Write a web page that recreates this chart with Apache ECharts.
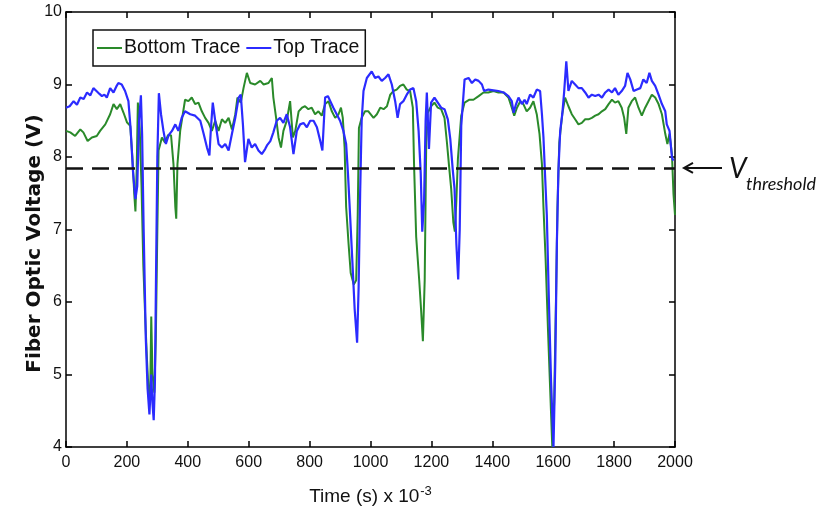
<!DOCTYPE html>
<html>
<head>
<meta charset="utf-8">
<script src="https://cdn.jsdelivr.net/npm/echarts@6/dist/echarts.min.js"></script>
<style>
html,body{margin:0;padding:0;background:#fff;}
#chart{width:833px;height:511px;}
</style>
</head>
<body>
<div id="chart"></div>
<script>
// ---- data ----
const seriesNames = ['Bottom Trace', 'Top Trace'];
const xTicks = [0, 200, 400, 600, 800, 1000, 1200, 1400, 1600, 1800, 2000];
const yTicks = [4, 5, 6, 7, 8, 9, 10];
const threshold = 7.85;

const bottomTime = [0,14,30,47,57,71,85,101,112,129,145,156,167,178,189,200,211,218,224,228,232,236,242,248,254,260,266,272,276,280,284,290,295,300,304,315,325,335,345,353,359,362,366,375,391,402,413,424,435,446,457,468,479,490,501,512,523,534,545,556,563,574,583,594,605,621,638,649,665,676,681,690,698,706,714,725,736,745,753,764,775,785,796,807,818,829,840,851,862,873,884,895,903,909,915,920,928,935,945,953,958,962,971,982,993,1010,1021,1032,1043,1054,1065,1075,1086,1097,1108,1119,1130,1139,1143,1150,1160,1166,1172,1178,1183,1188,1199,1210,1221,1232,1243,1251,1259,1265,1272,1277,1282,1287,1298,1309,1325,1338,1355,1371,1387,1404,1420,1437,1453,1464,1472,1481,1492,1502,1513,1524,1535,1546,1555,1563,1568,1575,1583,1590,1597,1603,1609,1614,1620,1630,1639,1650,1661,1672,1683,1694,1705,1716,1727,1738,1749,1760,1771,1782,1793,1803,1814,1825,1833,1840,1847,1858,1869,1880,1891,1902,1913,1924,1935,1946,1957,1968,1975,1982,1990,1995,2000];
const bottomValues = [8.36,8.34,8.29,8.38,8.34,8.22,8.27,8.29,8.36,8.45,8.59,8.73,8.66,8.73,8.61,8.48,8.43,8.0,7.5,7.25,7.8,8.75,8.4,7.6,6.5,5.8,5.2,4.7,4.6,5.8,5.0,4.75,5.5,7.0,8.09,8.27,8.2,8.3,8.3,7.9,7.31,7.15,7.9,8.36,8.79,8.77,8.82,8.73,8.75,8.63,8.54,8.47,8.36,8.5,8.36,8.52,8.47,8.54,8.38,8.59,8.82,8.75,8.95,9.16,9.02,9.0,9.05,9.0,9.02,9.09,8.82,8.54,8.27,8.13,8.36,8.5,8.77,8.27,8.36,8.63,8.68,8.7,8.66,8.68,8.59,8.63,8.57,8.73,8.77,8.63,8.54,8.59,8.68,8.54,8.13,7.31,6.8,6.4,6.24,6.3,7.2,8.4,8.54,8.63,8.63,8.54,8.59,8.68,8.66,8.7,8.86,8.91,8.93,8.98,9.0,8.93,8.91,8.68,7.9,6.9,6.3,5.9,5.46,6.3,8.2,8.61,8.7,8.75,8.68,8.66,8.54,8.2,7.83,7.56,7.1,6.97,7.4,7.97,8.57,8.75,8.79,8.79,8.84,8.89,8.89,8.91,8.89,8.89,8.82,8.68,8.57,8.68,8.77,8.73,8.63,8.68,8.77,8.59,8.32,7.9,7.31,6.6,5.6,4.8,4.0,4.6,6.0,7.3,8.2,8.6,8.82,8.7,8.59,8.52,8.45,8.47,8.52,8.52,8.54,8.57,8.59,8.63,8.66,8.73,8.79,8.75,8.77,8.68,8.54,8.32,8.68,8.77,8.82,8.68,8.57,8.68,8.77,8.86,8.82,8.73,8.59,8.32,8.18,8.32,8.04,7.49,7.2];

const topTime = [0,12,25,36,47,58,69,80,90,100,110,118,126,134,145,156,165,172,183,194,205,212,220,228,234,240,246,250,255,262,268,274,280,284,288,292,296,300,305,312,320,328,337,348,359,369,380,391,408,424,441,452,463,471,476,482,490,501,512,523,534,545,556,567,574,581,588,599,610,621,632,643,654,660,671,681,692,703,714,725,736,747,758,769,780,791,802,813,824,835,842,851,860,868,878,889,900,911,920,926,931,940,948,956,961,966,971,977,988,1004,1015,1026,1037,1048,1059,1070,1081,1089,1097,1108,1119,1130,1141,1150,1158,1165,1170,1176,1181,1185,1192,1199,1210,1221,1232,1243,1254,1262,1270,1276,1282,1288,1293,1298,1309,1322,1333,1344,1355,1366,1373,1387,1404,1420,1437,1453,1464,1470,1478,1486,1497,1506,1513,1524,1535,1546,1557,1563,1568,1574,1579,1586,1593,1601,1607,1612,1617,1623,1630,1636,1643,1650,1661,1672,1683,1694,1705,1716,1727,1738,1749,1760,1771,1782,1793,1803,1814,1825,1836,1844,1853,1864,1875,1886,1896,1907,1916,1924,1935,1946,1957,1968,1973,1982,1990,1995];
const topValues = [8.68,8.7,8.77,8.72,8.82,8.8,8.89,8.85,8.95,8.91,8.87,8.84,8.86,8.82,8.95,8.89,8.97,9.02,9.0,8.91,8.77,8.4,7.8,7.42,7.6,8.5,8.85,8.3,7.0,5.5,4.8,4.45,5.0,4.6,4.37,4.9,6.5,8.0,8.88,8.59,8.36,8.18,8.3,8.36,8.45,8.36,8.54,8.63,8.59,8.57,8.5,8.32,8.13,8.02,8.4,8.75,8.5,8.18,8.13,8.18,8.09,8.32,8.54,8.82,8.86,8.45,7.93,8.25,8.13,8.18,8.09,8.04,8.11,8.16,8.22,8.34,8.5,8.54,8.47,8.59,8.41,8.04,8.36,8.45,8.47,8.41,8.5,8.5,8.41,8.22,8.09,8.82,8.84,8.77,8.68,8.59,8.5,8.36,8.18,7.77,7.36,6.6,5.9,5.44,6.2,7.5,8.5,8.91,9.09,9.18,9.09,9.11,9.05,9.09,9.14,9.0,8.77,8.54,8.73,8.77,8.86,8.93,8.95,8.77,8.36,7.77,6.97,7.4,8.5,8.89,8.11,8.75,8.82,8.75,8.68,8.66,8.52,8.25,7.83,7.56,6.8,6.31,7.0,8.43,9.07,9.09,9.02,9.07,9.05,9.0,8.91,8.93,8.92,8.91,8.89,8.84,8.77,8.61,8.73,8.82,8.73,8.79,8.73,8.86,8.82,8.93,8.91,8.59,8.27,7.68,7.2,6.0,4.9,4.0,5.2,6.8,7.8,8.36,8.6,8.9,9.32,8.91,9.05,9.0,8.95,8.95,8.89,8.82,8.86,8.84,8.86,8.82,8.89,8.93,8.89,8.95,8.86,8.91,8.98,9.16,9.07,8.91,8.93,8.95,9.07,9.02,9.16,9.05,8.98,8.86,8.73,8.63,8.45,8.36,7.99,7.95];

// ---- chart ----
const SANS = '"Liberation Sans", Arial, Helvetica, sans-serif';
const chart = echarts.init(document.getElementById('chart'), null, {renderer: 'canvas'});

function zip(t, v) { return t.map((x, i) => [x, v[i]]); }

const axisCommon = {
  axisLine: {show: true, onZero: false, lineStyle: {color: '#000', width: 1.5}},
  axisTick: {show: true, inside: true, length: 6, lineStyle: {color: '#000', width: 1.5}},
  splitLine: {show: false}
};

const option = {
  animation: false,
  backgroundColor: '#fff',
  grid: {left: 66, right: 158, top: 12, bottom: 61, containLabel: false},
  legend: {
    data: seriesNames,
    left: 93, top: 30,
    orient: 'horizontal',
    icon: 'rect',
    itemWidth: 25, itemHeight: 2, itemGap: 6,
    padding: [8, 6, 8, 4],
    backgroundColor: '#fff',
    borderColor: '#111', borderWidth: 1.5,
    textStyle: {fontFamily: SANS, fontSize: 19.5, color: '#111', padding: [0, 0, 0, -3]}
  },
  xAxis: [
    Object.assign({
      type: 'value', min: xTicks[0], max: xTicks[xTicks.length - 1], interval: xTicks[1] - xTicks[0],
      position: 'bottom',
      axisLabel: {fontFamily: SANS, fontSize: 16, color: '#111', margin: 8, formatter: v => String(v)},
      name: '{a|Time (s) x 10}{b|-3}',
      nameLocation: 'middle', nameGap: 38, nameMoveOverlap: false,
      nameTextStyle: {
        rich: {
          a: {fontFamily: SANS, fontSize: 19, color: '#111'},
          b: {fontFamily: SANS, fontSize: 13, color: '#111', verticalAlign: 'top', padding: [0, 0, 10, 1]}
        }
      }
    }, axisCommon),
    Object.assign({
      type: 'value', min: xTicks[0], max: xTicks[xTicks.length - 1], interval: xTicks[1] - xTicks[0],
      position: 'top', axisLabel: {show: false}
    }, axisCommon)
  ],
  yAxis: [
    Object.assign({
      type: 'value', min: yTicks[0], max: yTicks[yTicks.length - 1], interval: 1,
      position: 'left',
      axisLabel: {fontFamily: SANS, fontSize: 16, color: '#111', margin: 4},
      name: 'Fiber Optic Voltage (V)',
      nameLocation: 'middle', nameGap: 21, nameMoveOverlap: false,
      nameTextStyle: {fontFamily: '"DejaVu Sans", sans-serif', fontWeight: 'bold', fontSize: 20, color: '#111', padding: [0, 28, 0, 0]}
    }, axisCommon),
    Object.assign({
      type: 'value', min: yTicks[0], max: yTicks[yTicks.length - 1], interval: 1,
      position: 'right', axisLabel: {show: false}
    }, axisCommon)
  ],
  series: [
    {
      name: seriesNames[0], type: 'line', data: zip(bottomTime, bottomValues),
      showSymbol: false, symbol: 'none',
      color: '#2a8a2a',
      lineStyle: {width: 2, color: '#2a8a2a'},
      z: 2,
      markLine: {
        silent: true, symbol: ['none', 'none'], label: {show: false},
        lineStyle: {color: '#111', width: 2.5, type: [17, 9]},
        data: [{yAxis: threshold}],
        z: 5
      }
    },
    {
      name: seriesNames[1], type: 'line', data: zip(topTime, topValues),
      showSymbol: false, symbol: 'none',
      color: '#2b2bff',
      lineStyle: {width: 2.2, color: '#2b2bff'},
      z: 3
    }
  ]
};
chart.setOption(option);

// annotation (arrow + label) positioned from the threshold value
const yPix = chart.convertToPixel({yAxisIndex: 0}, threshold);
const xEnd = chart.convertToPixel({xAxisIndex: 0}, xTicks[xTicks.length - 1]);
chart.setOption({
  graphic: [
    {type: 'line', shape: {x1: xEnd + 9, y1: yPix, x2: xEnd + 47, y2: yPix}, style: {stroke: '#111', lineWidth: 2}},
    {type: 'polyline', shape: {points: [[xEnd + 18, yPix - 5], [xEnd + 9, yPix], [xEnd + 18, yPix + 5]]}, style: {stroke: '#111', lineWidth: 2, fill: null}},
    {type: 'text', x: xEnd + 54, y: yPix - 13, style: {text: 'V', font: 'italic 28px Lato, "Open Sans", sans-serif', fill: '#111', textVerticalAlign: 'top'}},
    {type: 'text', x: xEnd + 71, y: yPix + 7, style: {text: 'threshold', font: 'italic 18px Lato, "Open Sans", sans-serif', fill: '#111', textVerticalAlign: 'top'}}
  ]
});
</script>
</body>
</html>
